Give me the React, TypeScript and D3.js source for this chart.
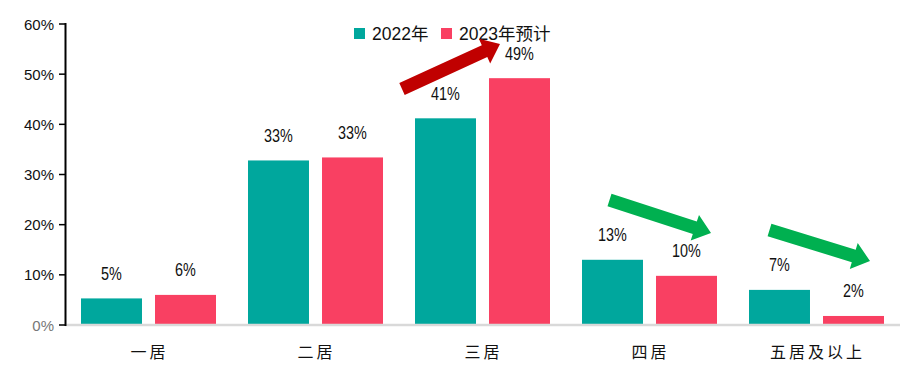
import React from "react";
import * as d3 from "d3";

const categories = ["一居", "二居", "三居", "四居", "五居及以上"];
const seriesNames = ["2022年", "2023年预计"];
const values2022 = [5.3, 32.8, 41.2, 13.0, 7.0];
const values2023 = [6.0, 33.4, 49.2, 9.8, 1.8];
const yTicks = [0, 10, 20, 30, 40, 50, 60];
const colors = ["#00A79D", "#F94062"];

// arrows: [tailX, tailY, tipX, tipY] in annotation space
const arrows = [
  { from: [402, 89], to: [500, 44], color: "#C00000" },
  { from: [609.5, 200], to: [711, 233], color: "#00B050" },
  { from: [769.5, 230], to: [870, 261], color: "#00B050" },
];

function arrowPath(from: number[], to: number[], w: number, hw: number, hl: number) {
  const dx = to[0] - from[0];
  const dy = to[1] - from[1];
  const L = Math.hypot(dx, dy);
  const ux = dx / L, uy = dy / L;
  const nx = -uy, ny = ux;
  const bx = to[0] - ux * hl, by = to[1] - uy * hl;
  const pts = [
    [from[0] + nx * w / 2, from[1] + ny * w / 2],
    [bx + nx * w / 2, by + ny * w / 2],
    [bx + nx * hw / 2, by + ny * hw / 2],
    [to[0], to[1]],
    [bx - nx * hw / 2, by - ny * hw / 2],
    [bx - nx * w / 2, by - ny * w / 2],
    [from[0] - nx * w / 2, from[1] - ny * w / 2],
  ];
  return "M" + pts.map((p) => p[0].toFixed(1) + "," + p[1].toFixed(1)).join("L") + "Z";
}

export default function App() {
  const W = 913, H = 367;
  const left = 65, right = 900, top = 24, bottom = 325;
  const x0 = d3.scaleBand<string>().domain(categories).range([left, right]).padding(0);
  const x1 = d3.scaleBand<string>().domain(seriesNames).range([16, 151]).paddingInner(0.176).paddingOuter(0);
  const y = d3.scaleLinear().domain([0, 60]).range([bottom, top]);
  const data = [values2022, values2023];
  const labelFont = "'Liberation Sans', Arial, sans-serif";

  return (
    <svg width={W} height={H} style={{ position: "absolute", left: 0, top: 0, background: "#fff" }}>
      {/* bars */}
      {categories.map((c, i) => (
        <g key={c} transform={`translate(${x0(c)},0)`}>
          {seriesNames.map((s, si) => {
            const v = data[si][i];
            const bx = x1(s)!;
            return (
              <g key={s}>
                <rect x={bx} y={y(v)} width={x1.bandwidth()} height={y(0) - y(v)} fill={colors[si]} />
                <text
                  transform={`translate(${bx + x1.bandwidth() / 2},${y(v) - 18.5}) scale(0.8,1)`}
                  textAnchor="middle"
                  fontFamily={labelFont}
                  fontSize={18}
                  fill="#111"
                >
                  {Math.round(v) + "%"}
                </text>
              </g>
            );
          })}
        </g>
      ))}
      {/* x axis baseline */}
      <line x1={left} x2={right} y1={bottom} y2={bottom} stroke="#d9d9d9" strokeWidth={2.5} />
      {/* y axis */}
      <line x1={left + 0.5} x2={left + 0.5} y1={top - 1} y2={bottom + 1} stroke="#000" strokeWidth={2} />
      {yTicks.map((t) => (
        <g key={t}>
          <line x1={left - 6} x2={left} y1={y(t)} y2={y(t)} stroke="#000" strokeWidth={1.5} />
          <text
            x={54}
            y={y(t) + 5.5}
            textAnchor="end"
            fontFamily="'Liberation Sans', Arial, sans-serif"
            fontSize={15}
            fill={t === 0 ? "#777" : "#111"}
          >
            {t + "%"}
          </text>
        </g>
      ))}
      {/* category labels */}
      {categories.map((c) => (
        <text
          key={c}
          x={x0(c)! + x0.bandwidth() / 2 + 1}
          y={358}
          textAnchor="middle"
          fontFamily="'Noto Sans CJK SC', sans-serif"
          fontSize={16}
          letterSpacing={3}
          fill="#111"
        >
          {c}
        </text>
      ))}
      {/* legend */}
      <rect x={354} y={28} width={11} height={11} fill={colors[0]} />
      <text x={372} y={40} fontFamily="'Liberation Sans', 'Noto Sans CJK SC', sans-serif" fontSize={17.5} fill="#111">
        {seriesNames[0]}
      </text>
      <rect x={441} y={28} width={11} height={11} fill={colors[1]} />
      <text x={459} y={40} fontFamily="'Liberation Sans', 'Noto Sans CJK SC', sans-serif" fontSize={17.5} fill="#111">
        {seriesNames[1]}
      </text>
      {/* arrows */}
      {arrows.map((a, i) => (
        <path key={i} d={arrowPath(a.from, a.to, 13, 27, 17)} fill={a.color} />
      ))}
    </svg>
  );
}
